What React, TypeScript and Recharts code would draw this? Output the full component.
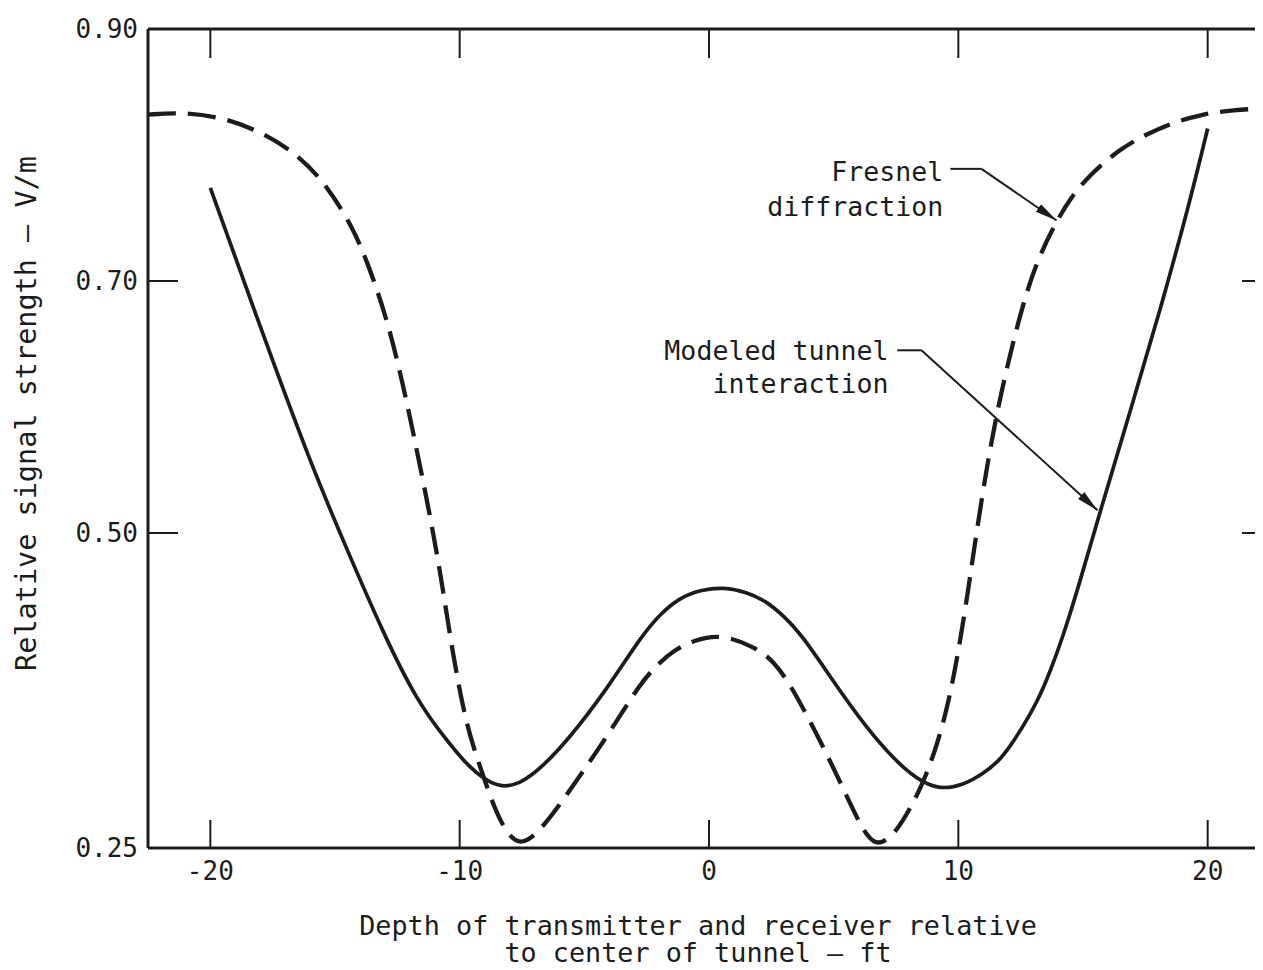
import { LineChart, Line, XAxis, YAxis, ReferenceLine, ReferenceDot } from "recharts";

// depth (ft) vs relative signal strength (V/m)
const fresnelDepth = [
  -22.5, -21.2, -19.5, -17.9, -16.4, -15.3, -14.3, -13.7, -13.0, -12.5, -12.1, -11.7, -11.1,
  -10.7, -10.3, -9.8, -9.4, -9.0, -8.5, -8.0, -7.5, -6.7, -5.6, -4.1, -2.75, -2.05, -1.4, -0.6,
  0.5, 1.9, 2.6, 3.3, 4.6, 5.6, 6.2, 6.7, 7.2, 7.7, 8.6, 9.2, 9.6, 10.0, 10.4, 10.7, 11.3, 11.9,
  12.6, 13.2, 13.9, 14.5, 15.3, 16.5, 17.5, 18.5, 19.7, 21.0, 22.5,
];
const fresnelSignal = [
  0.832, 0.834, 0.83, 0.818, 0.799, 0.775, 0.743, 0.715, 0.675, 0.637, 0.602, 0.564, 0.505,
  0.459, 0.407, 0.354, 0.327, 0.304, 0.276, 0.259, 0.252, 0.265, 0.295, 0.338, 0.381, 0.396,
  0.407, 0.415, 0.42, 0.409, 0.398, 0.379, 0.33, 0.288, 0.263, 0.252, 0.257, 0.268, 0.301,
  0.335, 0.365, 0.405, 0.455, 0.497, 0.572, 0.628, 0.683, 0.718, 0.746, 0.766, 0.785, 0.805,
  0.816, 0.825, 0.832, 0.836, 0.837,
];

const tunnelDepth = [
  -20, -18.1, -16.0, -14.5, -13.1, -11.7, -10.5, -9.8, -9.0, -8.3, -7.6, -6.8, -5.6, -4.1,
  -2.75, -2.0, -1.15, -0.3, 0.6, 1.5, 2.3, 3.0, 3.7, 5.3, 6.6, 8.0, 8.8, 9.4, 10.2, 11.0, 11.7,
  12.4, 13.2, 13.7, 14.2, 14.8, 15.7, 16.9, 18.1, 19.3, 20,
];
const tunnelSignal = [
  0.774, 0.669, 0.556, 0.486, 0.422, 0.366, 0.335, 0.318, 0.304, 0.298, 0.301, 0.312, 0.337,
  0.376, 0.417, 0.435, 0.449, 0.455, 0.457, 0.453, 0.446, 0.434, 0.42, 0.373, 0.338, 0.309,
  0.3, 0.297, 0.3, 0.309, 0.32, 0.34, 0.367, 0.391, 0.418, 0.456, 0.518, 0.597, 0.677, 0.764,
  0.821,
];

const depthTicks = [-20, -10, 0, 10, 20];
const signalTicks = [0.25, 0.5, 0.7, 0.9];

const fresnel = fresnelDepth.map((x, i) => ({ x, y: fresnelSignal[i] }));
const tunnel = tunnelDepth.map((x, i) => ({ x, y: tunnelSignal[i] }));

const INK = "#1c1c1c";
const FONT = "'DejaVu Sans Mono', monospace";
const textStyle = { fontFamily: FONT, fontSize: 26.6, fill: INK };

// tick marks only, no tick text
const noText = () => <g />;

function DepthTitle({ viewBox }: any) {
  const cx = viewBox.x + viewBox.width / 2 - 11;
  return (
    <text textAnchor="middle" {...textStyle} fontSize={26.8}>
      <tspan x={cx} y={viewBox.y + 87}>Depth of transmitter and receiver relative</tspan>
      <tspan x={cx} y={viewBox.y + 114}>to center of tunnel — ft</tspan>
    </text>
  );
}

function SignalTitle({ viewBox }: any) {
  const x = 28;
  const y = viewBox.y + viewBox.height / 2 - 25;
  return (
    <text x={x} y={y} textAnchor="middle" transform={`rotate(-90 ${x} ${y})`} {...textStyle} fontSize={28.5}>
      Relative signal strength — V/m
    </text>
  );
}

export default function App() {
  return (
    <>
      {/* the frame runs past the right edge of the window */}
      <style>{"body { overflow: hidden; }"}</style>
      <div style={{ width: 1262, height: 962, overflow: "hidden" }}>
        <LineChart width={1300} height={962} margin={{ top: 0, right: 28, bottom: 0, left: 0 }}>
          <defs>
            <marker
              id="arrowHead"
              viewBox="0 0 10 10"
              refX="10"
              refY="5"
              markerWidth="22"
              markerHeight="22"
              markerUnits="userSpaceOnUse"
              orient="auto"
            >
              <path d="M0,2.9 L10,5 L0,7.1 z" fill={INK} />
            </marker>
          </defs>

          <XAxis
            dataKey="x"
            type="number"
            domain={[-22.5, 22.5]}
            ticks={depthTicks}
            allowDataOverflow
            height={122}
            tickSize={-28}
            tickMargin={42}
            axisLine={{ stroke: INK, strokeWidth: 3 }}
            tickLine={{ stroke: INK, strokeWidth: 2 }}
            tick={{ fontFamily: FONT, fontSize: 26, fill: INK }}
            label={<DepthTitle />}
          />
          <XAxis
            xAxisId="top"
            orientation="top"
            dataKey="x"
            type="number"
            domain={[-22.5, 22.5]}
            ticks={depthTicks}
            allowDataOverflow
            height={21}
            tickSize={-29}
            tick={noText}
            axisLine={{ stroke: INK, strokeWidth: 3 }}
            tickLine={{ stroke: INK, strokeWidth: 2 }}
          />
          <YAxis
            type="number"
            domain={[0.25, 0.9]}
            ticks={signalTicks}
            allowDataOverflow
            width={140}
            tickSize={-30}
            tickMargin={40}
            tickFormatter={(v: number) => v.toFixed(2)}
            axisLine={{ stroke: INK, strokeWidth: 3 }}
            tickLine={{ stroke: INK, strokeWidth: 2 }}
            tick={{ fontFamily: FONT, fontSize: 26, fill: INK }}
            label={<SignalTitle />}
          />
          <YAxis
            yAxisId="right"
            orientation="right"
            type="number"
            domain={[0.25, 0.9]}
            ticks={signalTicks}
            allowDataOverflow
            width={10}
            tickSize={-28}
            tick={noText}
            axisLine={{ stroke: INK, strokeWidth: 3 }}
            tickLine={{ stroke: INK, strokeWidth: 2 }}
          />

          <Line
            data={fresnel}
            dataKey="y"
            type="basis"
            stroke={INK}
            strokeWidth={4.3}
            strokeDasharray="28 12"
            dot={false}
            isAnimationActive={false}
          />
          <Line
            data={tunnel}
            dataKey="y"
            type="basis"
            stroke={INK}
            strokeWidth={3.7}
            dot={false}
            isAnimationActive={false}
          />

          {/* callout: Fresnel diffraction */}
          <ReferenceLine
            segment={[{ x: 9.68, y: 0.789 }, { x: 10.93, y: 0.789 }]}
            stroke={INK}
            strokeWidth={2}
          />
          <ReferenceLine
            segment={[{ x: 10.93, y: 0.789 }, { x: 13.94, y: 0.748 }]}
            stroke={INK}
            strokeWidth={2}
            markerEnd="url(#arrowHead)"
          />
          <ReferenceDot x={9.4} y={0.787} r={0} fill="none" stroke="none"
            label={{ value: "Fresnel", position: "left", offset: 0, ...textStyle }} />
          <ReferenceDot x={9.4} y={0.759} r={0} fill="none" stroke="none"
            label={{ value: "diffraction", position: "left", offset: 0, ...textStyle }} />

          {/* callout: modeled tunnel interaction */}
          <ReferenceLine
            segment={[{ x: 7.55, y: 0.645 }, { x: 8.52, y: 0.645 }]}
            stroke={INK}
            strokeWidth={2}
          />
          <ReferenceLine
            segment={[{ x: 8.52, y: 0.645 }, { x: 15.58, y: 0.518 }]}
            stroke={INK}
            strokeWidth={2}
            markerEnd="url(#arrowHead)"
          />
          <ReferenceDot x={7.2} y={0.645} r={0} fill="none" stroke="none"
            label={{ value: "Modeled tunnel", position: "left", offset: 0, ...textStyle }} />
          <ReferenceDot x={7.2} y={0.619} r={0} fill="none" stroke="none"
            label={{ value: "interaction", position: "left", offset: 0, ...textStyle }} />
        </LineChart>
      </div>
    </>
  );
}
